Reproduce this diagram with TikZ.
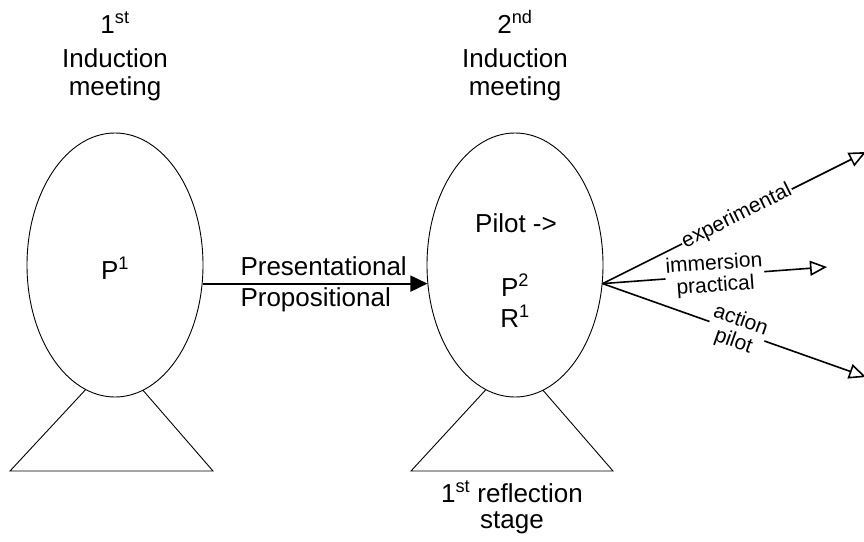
\documentclass[tikz,border=0pt]{standalone}
\usepackage{fontspec}
\setmainfont{Liberation Sans}
\usetikzlibrary{shapes.geometric,arrows.meta}
\newcommand{\mainsize}{\fontsize{26}{28}\selectfont}
\newcommand{\fansize}{\fontsize{21}{22}\selectfont}
\tikzset{
  meeting/.style={ellipse,draw,fill=white,line width=0.9pt,minimum width=176pt,minimum height=264pt,inner sep=0pt},
  stand/.style={draw,line width=0.9pt},
  flow/.style={line width=1.8pt,-{Triangle[length=17pt,width=16pt]}},
  fan/.style={line width=1.6pt,-{Triangle[open,length=17pt,width=15pt]}},
  fanlabel/.style={sloped,fill=white,inner sep=1pt,font=\fansize,align=center}
}
\begin{document}
\begin{tikzpicture}[x=1pt,y=-1pt,font=\mainsize]
            \useasboundingbox (0,0) rectangle (864,541);
            % Stands
            \draw[stand](115,358)--(10,471)--(213,471)--cycle;
            \draw[stand](515,358)--(411,471)--(613,471)--cycle;
            % Meetings
            \node[meeting](meet1) at (115,265){};
            \node[meeting](meet2) at (515,265){};
            % Titles
            \node[anchor=base,align=center](title1) at (115,95){1\textsuperscript{st}\\[6pt]Induction\\meeting};
            \node[anchor=base,align=center](title2) at (515,95){2\textsuperscript{nd}\\[6pt]Induction\\meeting};
            \node[anchor=base,align=center](stage) at (512,528){1\textsuperscript{st} reflection\\[-2pt]stage};
            % Ellipse texts
            \node[anchor=base](p1) at (115,279){P\textsuperscript{1}};
            \node[anchor=base](pilot) at (516,232){Pilot ->};
            \node[anchor=base](p2) at (515,296){P\textsuperscript{2}};
            \node[anchor=base](r1) at (515,327){R\textsuperscript{1}};
            % Flow between meetings
            \draw[flow](meet1.-12)--(meet2.192);
            \node[anchor=base west](pres) at (237,275){Presentational};
            \node[anchor=base west](prop) at (237,306){Propositional};
            % Fan of pilot kinds
            \coordinate(expend) at (866,152);
            \coordinate(immend) at (827,267);
            \coordinate(actend) at (866,377);
            \draw[fan](meet2.-12)--node[fanlabel,pos=0.51]{experimental}(expend);
            \draw[fan](meet2.-12)--node[fanlabel,pos=0.5]{immersion\\practical}(immend);
            \draw[fan](meet2.-12)--node[fanlabel,pos=0.51]{action\\pilot}(actend);
\end{tikzpicture}
\end{document}
